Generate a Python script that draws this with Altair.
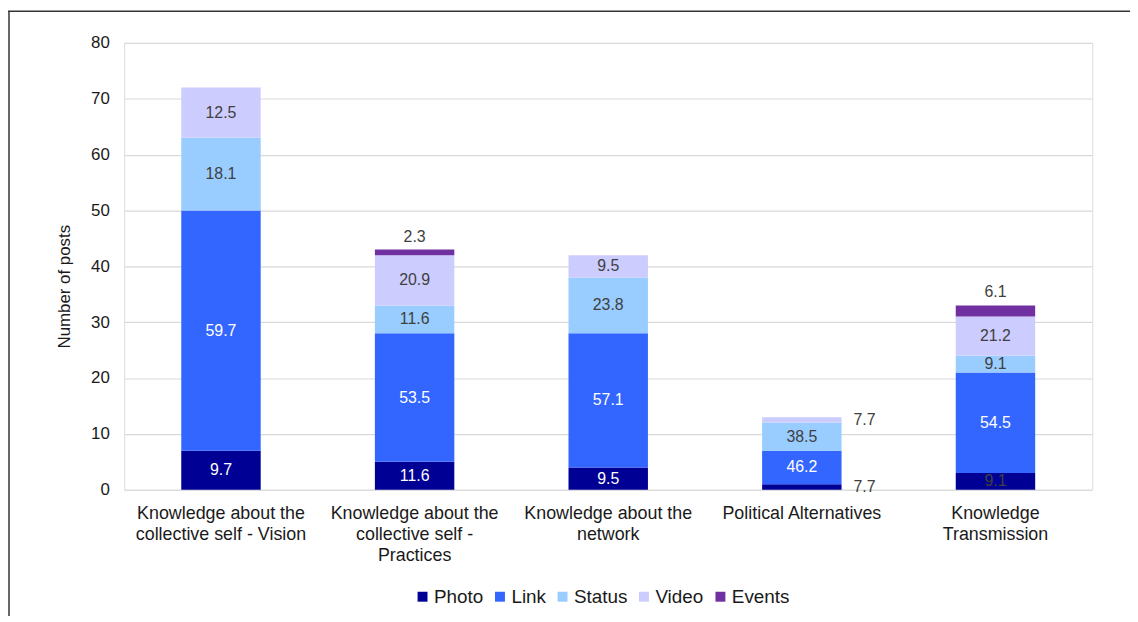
import json
import altair as alt
import pandas as pd

categories = [
    "Knowledge about the collective self - Vision",
    "Knowledge about the collective self - Practices",
    "Knowledge about the network",
    "Political Alternatives",
    "Knowledge Transmission",
]
category_lines = [
    ["Knowledge about the", "collective self - Vision"],
    ["Knowledge about the", "collective self -", "Practices"],
    ["Knowledge about the", "network"],
    ["Political Alternatives"],
    ["Knowledge", "Transmission"],
]
series = ["Photo", "Link", "Status", "Video", "Events"]
colors = ["#000094", "#3366FF", "#99CCFF", "#CCCCFF", "#7030A0"]

photo = [7, 5, 4, 1, 3]
link = [43, 23, 24, 6, 18]
status = [13, 5, 10, 5, 3]
video = [9, 9, 4, 1, 7]
events = [0, 1, 0, 0, 2]

photo_pct = [9.7, 11.6, 9.5, 7.7, 9.1]
link_pct = [59.7, 53.5, 57.1, 46.2, 54.5]
status_pct = [18.1, 11.6, 23.8, 38.5, 9.1]
video_pct = [12.5, 20.9, 9.5, 7.7, 21.2]
events_pct = [0, 2.3, 0, 0, 6.1]

counts = {"Photo": photo, "Link": link, "Status": status, "Video": video, "Events": events}
pcts = {"Photo": photo_pct, "Link": link_pct, "Status": status_pct, "Video": video_pct, "Events": events_pct}

rows = []
for i, c in enumerate(categories):
    base = 0
    for k, s in enumerate(series):
        n = counts[s][i]
        if n > 0:
            rows.append(dict(category=c, series=s, order=k, y0=base, y1=base + n,
                             mid=base + n / 2, count=n, label=f"{pcts[s][i]:.1f}"))
        base += n
df = pd.DataFrame(rows)

label_expr = " : ".join(
    f"datum.value == {json.dumps(c)} ? {json.dumps(l)}" for c, l in zip(categories, category_lines)
) + " : datum.value"

FONT = "Liberation Sans"
DARK = "#404040"
TXT = "#1a1a1a"

x_enc = alt.X("category:N", sort=categories, title=None,
              scale=alt.Scale(paddingInner=0, paddingOuter=0),
              axis=alt.Axis(labelAngle=0, labelExpr=label_expr, labelFontSize=18,
                            labelColor=TXT, labelLineHeight=21, labelPadding=15,
                            labelLimit=300, domain=False, ticks=False, grid=False,
                            labelFont=FONT))
y_scale = alt.Scale(domain=[0, 80])

bars = alt.Chart(df).mark_bar(size=80).encode(
    x=x_enc,
    y=alt.Y("y0:Q", scale=y_scale, title="Number of posts",
            axis=alt.Axis(values=list(range(0, 81, 10)), labelFontSize=17, labelColor=TXT,
                          labelFont=FONT, labelPadding=15, domain=False, ticks=False,
                          gridColor="#d9d9d9", gridWidth=1.2,
                          titleFont=FONT, titleFontSize=17, titleFontWeight="normal",
                          titleColor=TXT, titleX=-60, titleY=245,
                          titleAlign="center", titleBaseline="middle")),
    y2="y1:Q",
    color=alt.Color("series:N", sort=series,
                    scale=alt.Scale(domain=series, range=colors),
                    legend=alt.Legend(title=None, orient="none", legendX=291, legendY=548,
                                      direction="horizontal", symbolType="square",
                                      symbolSize=100, symbolStrokeWidth=0,
                                      labelFontSize=19, labelFont=FONT, labelColor=TXT,
                                      columnPadding=7, labelOffset=2)),
)

inside = alt.Chart(df).transform_filter(
    "datum.series != 'Events' && datum.count > 1"
).mark_text(font=FONT, fontSize=16).encode(
    x=alt.X("category:N", sort=categories),
    y=alt.Y("mid:Q", scale=y_scale),
    text="label:N",
    color=alt.condition(
        "(datum.series == 'Photo' || datum.series == 'Link') && datum.count >= 4",
        alt.value("white"), alt.value(DARK)),
)

above = alt.Chart(df).transform_filter(
    "datum.series == 'Events'"
).mark_text(font=FONT, fontSize=16, dy=-13, color=DARK).encode(
    x=alt.X("category:N", sort=categories),
    y=alt.Y("y1:Q", scale=y_scale),
    text="label:N",
)

right = alt.Chart(df).transform_filter(
    "datum.series != 'Events' && datum.count == 1"
).mark_text(font=FONT, fontSize=16, dx=52, align="left", color=DARK).encode(
    x=alt.X("category:N", sort=categories),
    y=alt.Y("mid:Q", scale=y_scale),
    text="label:N",
)

frame_data = alt.Data(values=[{"a": 1}])
frame_top = alt.Chart(frame_data).mark_rule(color="#333333", strokeWidth=1.5).encode(
    x=alt.value(-117), x2=alt.value(1013), y=alt.value(-32))
frame_left = alt.Chart(frame_data).mark_rule(color="#333333", strokeWidth=1.5).encode(
    x=alt.value(-116), y=alt.value(-32), y2=alt.value(600))

chart = alt.layer(bars, inside, above, right, frame_top, frame_left).properties(
    width=975, height=450,
    autosize=alt.AutoSizeParams(type="none"),
    padding={"left": 117, "top": 33, "right": 38, "bottom": 125},
).configure_view(stroke=None).configure(background="white")

chart.save("out.html", embed_options={"renderer": "svg", "actions": False})
